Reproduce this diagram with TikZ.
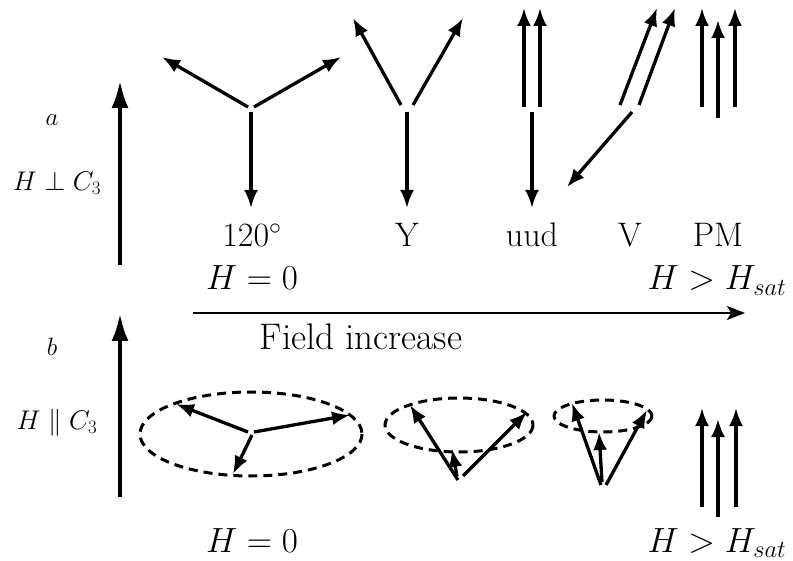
\documentclass[tikz,border=0pt]{standalone}
\usepackage{fix-cm}
\usetikzlibrary{arrows.meta}
\begin{document}
\begin{tikzpicture}[x=1pt,y=-1pt,
  spin/.style={line width=3.3pt,-{Latex[length=18pt,width=14pt]}},
  bigspin/.style={line width=4.5pt,-{Latex[length=28pt,width=17pt]}},
  fieldarrow/.style={line width=1.6pt,-{Stealth[length=18pt,width=14pt,inset=4pt]}},
  cone/.style={line width=3pt,dash pattern=on 9pt off 6pt},
  lbl/.style={font=\fontsize{34}{40}\selectfont,inner sep=0pt,anchor=base},
  flbl/.style={font=\fontsize{37}{44}\selectfont,inner sep=0pt,anchor=base},
  mlbl/.style={font=\fontsize{35}{42}\selectfont,inner sep=0pt,anchor=base},
  slbl/.style={font=\fontsize{27}{32}\selectfont,inner sep=0pt},
  tlbl/.style={font=\fontsize{25}{30}\selectfont,inner sep=0pt},
]
\useasboundingbox (0,0) rectangle (793,561);

% ---------- panel a ----------
\coordinate (aS) at (120,265); \coordinate (aE) at (120,80);
\draw[bigspin] (aS) -- (aE);
\node[tlbl] (la) at (52,120) {$a$};
\node[slbl] (lperp) at (57,183) {$H\perp C_3$};

% 120 degree
\coordinate (t1s) at (248,107); \coordinate (t1e) at (162,57);
\coordinate (t2s) at (254,107); \coordinate (t2e) at (341,57);
\coordinate (t3s) at (251,112); \coordinate (t3e) at (251,208);
\draw[spin] (t1s) -- (t1e);
\draw[spin] (t2s) -- (t2e);
\draw[spin] (t3s) -- (t3e);

% Y
\coordinate (y1s) at (401,105); \coordinate (y1e) at (353,18);
\coordinate (y2s) at (413,105); \coordinate (y2e) at (463,18);
\coordinate (y3s) at (407,112); \coordinate (y3e) at (407,208);
\draw[spin] (y1s) -- (y1e);
\draw[spin] (y2s) -- (y2e);
\draw[spin] (y3s) -- (y3e);

% uud
\coordinate (u1s) at (524,107); \coordinate (u1e) at (524,8);
\coordinate (u2s) at (540,107); \coordinate (u2e) at (540,8);
\coordinate (u3s) at (532,112); \coordinate (u3e) at (532,208);
\draw[spin] (u1s) -- (u1e);
\draw[spin] (u2s) -- (u2e);
\draw[spin] (u3s) -- (u3e);

% V
\coordinate (v1s) at (620,105); \coordinate (v1e) at (657,8);
\coordinate (v2s) at (639,105); \coordinate (v2e) at (675,8);
\coordinate (v3s) at (632,112); \coordinate (v3e) at (567,187);
\draw[spin] (v1s) -- (v1e);
\draw[spin] (v2s) -- (v2e);
\draw[spin] (v3s) -- (v3e);

% PM
\coordinate (p1s) at (702,107); \coordinate (p1e) at (702,8);
\coordinate (p2s) at (718,118); \coordinate (p2e) at (718,20);
\coordinate (p3s) at (735,107); \coordinate (p3e) at (735,8);
\draw[spin] (p1s) -- (p1e);
\draw[spin] (p2s) -- (p2e);
\draw[spin] (p3s) -- (p3e);

\node[lbl] (l120) at (252,247) {120$^\circ$};
\node[lbl] (lY) at (407,247) {Y};
\node[lbl] (luud) at (532,247) {uud};
\node[lbl] (lV) at (630,247) {V};
\node[lbl] (lPM) at (718,247) {PM};

\node[mlbl] (h0a) at (252,290) {$H=0$};
\node[mlbl] (hsa) at (717,290) {$H>H_{sat}$};

% field arrow
\coordinate (fS) at (193,313); \coordinate (fE) at (745,313);
\draw[fieldarrow] (fS) -- (fE);
\node[flbl] (lfield) at (361,350) {Field increase};

% ---------- panel b ----------
\coordinate (bS) at (120,497); \coordinate (bE) at (120,313);
\draw[bigspin] (bS) -- (bE);
\node[tlbl] (lb) at (52,347) {$b$};
\node[slbl] (lpar) at (57,423) {$H\parallel C_3$};

% ellipse 1
\coordinate (c1) at (251,434);
\draw[cone] (c1) ellipse [x radius=111, y radius=42];
\coordinate (e1a) at (248,432); \coordinate (e1ae) at (176,404);
\coordinate (e1b) at (254,432); \coordinate (e1be) at (350,415);
\coordinate (e1c) at (252,435); \coordinate (e1ce) at (233,474);
\draw[spin] (e1a) -- (e1ae);
\draw[spin] (e1b) -- (e1be);
\draw[spin] (e1c) -- (e1ce);

% ellipse 2
\coordinate (c2) at (459,425);
\draw[cone] (c2) ellipse [x radius=74, y radius=27];
\coordinate (e2a) at (458,480); \coordinate (e2ae) at (410,405);
\coordinate (e2b) at (463,476); \coordinate (e2be) at (527,412);
\coordinate (e2c) at (457,476); \coordinate (e2ce) at (452,449);
\draw[spin] (e2a) -- (e2ae);
\draw[spin] (e2b) -- (e2be);
\draw[spin] (e2c) -- (e2ce);

% ellipse 3
\coordinate (c3) at (603,416);
\draw[cone] (c3) ellipse [x radius=49, y radius=16];
\coordinate (e3a) at (601,485); \coordinate (e3ae) at (572,403);
\coordinate (e3b) at (606,485); \coordinate (e3be) at (647,410);
\coordinate (e3c) at (602,482); \coordinate (e3ce) at (599,432);
\draw[spin] (e3a) -- (e3ae);
\draw[spin] (e3b) -- (e3be);
\draw[spin] (e3c) -- (e3ce);

% saturated
\coordinate (s1s) at (702,507); \coordinate (s1e) at (702,408);
\coordinate (s2s) at (718,517); \coordinate (s2e) at (718,419);
\coordinate (s3s) at (736,507); \coordinate (s3e) at (736,408);
\draw[spin] (s1s) -- (s1e);
\draw[spin] (s2s) -- (s2e);
\draw[spin] (s3s) -- (s3e);

\node[mlbl] (h0b) at (252,552) {$H=0$};
\node[mlbl] (hsb) at (717,552) {$H>H_{sat}$};
\end{tikzpicture}
\end{document}
